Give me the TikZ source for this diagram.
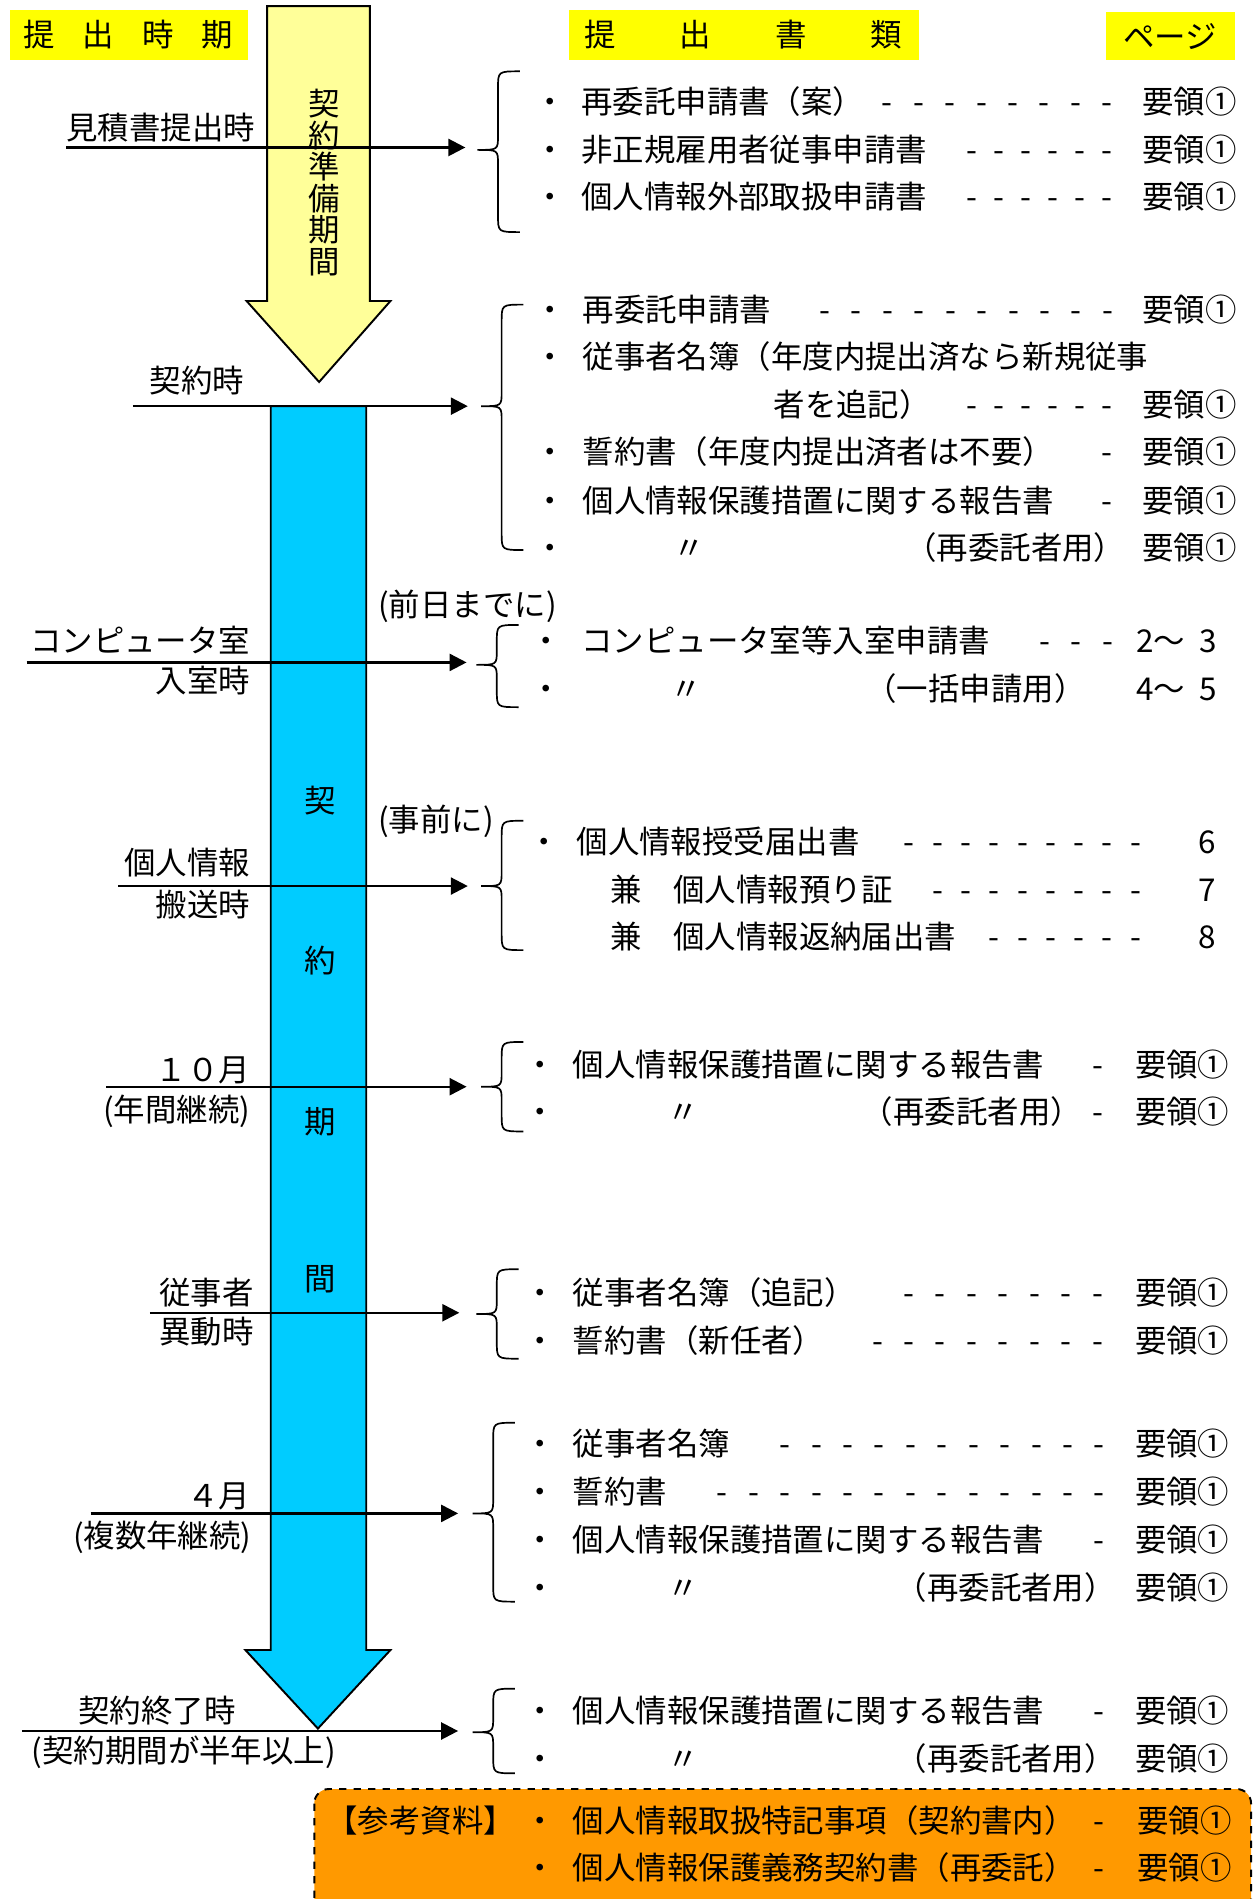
\documentclass[tikz,border=0pt]{standalone}
\usepackage{fontspec}
\setmainfont{Noto Sans CJK JP}
\usetikzlibrary{arrows.meta}
\definecolor{hdr}{HTML}{FFFF00}
\definecolor{ylw}{HTML}{FFFF99}
\definecolor{blu}{HTML}{00CCFF}
\definecolor{org}{HTML}{FF9900}
\newcommand\fs{\fontsize{13pt}{15pt}\selectfont}
\newcount\dcnt
\newcommand\dashes[2][13pt]{\dcnt=0 \loop\ifnum\dcnt<#2 \makebox[\dimexpr#1/2\relax]{-}\hspace*{\dimexpr#1/2\relax}\advance\dcnt by 1 \repeat}
\newcommand\mybrace[4]{%
 \draw[bracestyle] ({#1+35},#2) .. controls ({#1+17},#2) .. ({#1+17},{#2+14}) -- ({#1+17},{#3-12}) .. controls ({#1+17},#3) .. (#1,#3) .. controls ({#1+17},#3) .. ({#1+17},{#3+12}) -- ({#1+17},{#4-14}) .. controls ({#1+17},#4) .. ({#1+35},#4);}
\tikzset{
 every node/.style={inner sep=0pt, outer sep=0pt, font=\fs, text height=11.4pt, text depth=1.6pt},
 conn/.style={line width=1pt, -{Triangle[length=7pt,width=7pt]}},
 bracestyle/.style={line width=0.7pt},
 bigarrow/.style={draw=black, line width=0.8pt, line join=miter},
 vert/.style={align=center, text height=, text depth=},
}
\begin{document}
\begin{tikzpicture}[x=0.5pt,y=-0.5pt]
\useasboundingbox (0,0) rectangle (1040,1571);
\clip (0,0) rectangle (1040,1571);
% header boxes
\fill[hdr] (8,8) rectangle (205,50);
\fill[hdr] (471,8) rectangle (760,50);
\fill[hdr] (915,10) rectangle (1022,50);
\node (h1) at (106,29) {提\hspace{11.5pt}出\hspace{11.5pt}時\hspace{11.5pt}期};
\node (h2) at (615,29) {提\hspace{26.5pt}出\hspace{26.5pt}書\hspace{26.5pt}類};
\node (h3) at (968,30) {ページ};
% big arrows
\filldraw[bigarrow, fill=ylw] (221,5) -- (306,5) -- (306,249) -- (323,249) -- (264,316) -- (204,249) -- (221,249) -- cycle;
\filldraw[bigarrow, fill=blu] (224,336) -- (303,336) -- (303,1365) -- (323,1365) -- (263,1430) -- (203,1365) -- (224,1365) -- cycle;
\node[vert, font=\fontsize{13pt}{13pt}\selectfont] (vy) at (268,151) {契\\約\\準\\備\\期\\間};
\node (vb1) at (265,662) {契};
\node (vb2) at (265,795) {約};
\node (vb3) at (265,928) {期};
\node (vb4) at (265,1058) {間};
% reference box
\filldraw[fill=org, draw=black, dashed, line width=0.8pt, rounded corners=6pt] (260,1480) rectangle (1035,1620);
% connectors
\coordinate (s1) at (55,122);   \coordinate (e1) at (385,122);
\coordinate (s2) at (110,336);  \coordinate (e2) at (387,336);
\coordinate (s3) at (22,548);   \coordinate (e3) at (386,548);
\coordinate (s4) at (98,733);   \coordinate (e4) at (387,733);
\coordinate (s5) at (88,899);   \coordinate (e5) at (386,899);
\coordinate (s6) at (124,1086); \coordinate (e6) at (380,1086);
\coordinate (s7) at (75,1252);  \coordinate (e7) at (379,1252);
\coordinate (s8) at (18,1432);  \coordinate (e8) at (379,1432);
\foreach \i in {1,...,8} \draw[conn] (s\i) -- (e\i);
% braces
\mybrace{395}{59}{124}{192}
\mybrace{398}{252}{336}{455}
\mybrace{394}{517}{550}{585}
\mybrace{398}{679}{733}{786}
\mybrace{398}{862}{899}{936}
\mybrace{394}{1050}{1087}{1124}
\mybrace{391}{1177}{1252}{1325}
\mybrace{391}{1397}{1433}{1467}
% left labels
\node[anchor=west] (l1) at (55,106) {見積書提出時};
\node (l2) at (163,315) {契約時};
\node[anchor=east] (l3a) at (207,530) {コンピュータ室};
\node[anchor=east] (l3b) at (207,563) {入室時};
\node[anchor=east] (l4a) at (207,714) {個人情報};
\node[anchor=east] (l4b) at (207,748) {搬送時};
\node[anchor=east] (l5a) at (207,885) {１０月};
\node[anchor=east] (l5b) at (207,918) {(年間継続)};
\node[anchor=east] (l6a) at (210,1069) {従事者};
\node[anchor=east] (l6b) at (210,1102) {異動時};
\node[anchor=east] (l7a) at (207,1237) {４月};
\node[anchor=east] (l7b) at (208,1270) {(複数年継続)};
\node (l8a) at (130,1415) {契約終了時};
\node (l8b) at (152,1448) {(契約期間が半年以上)};
\node[anchor=west] (n3) at (313,500) {(前日までに)};
\node[anchor=west] (n4) at (313,678) {(事前に)};
% group 1
\node (g1b1) at (455,84) {・};
\node[anchor=west] (g1t1) at (481,84) {再委託申請書（案）};
\node[anchor=east] (g1d1) at (935.5,84) {\dashes{8}};
\node[anchor=east] (g1p1) at (1023,84) {要領①};
\node (g1b2) at (455,124) {・};
\node[anchor=west] (g1t2) at (481,124) {非正規雇用者従事申請書};
\node[anchor=east] (g1d2) at (932.8,124) {\dashes[11.2pt]{6}};
\node[anchor=east] (g1p2) at (1023,124) {要領①};
\node (g1b3) at (455,163) {・};
\node[anchor=west] (g1t3) at (481,163) {個人情報外部取扱申請書};
\node[anchor=east] (g1d3) at (932.8,163) {\dashes[11.2pt]{6}};
\node[anchor=east] (g1p3) at (1023,163) {要領①};
% group 2
\node (g2b1) at (455,256) {・};
\node[anchor=west] (g2t1) at (482,256) {再委託申請書};
\node[anchor=east] (g2d1) at (936,256) {\dashes{10}};
\node[anchor=east] (g2p1) at (1023,256) {要領①};
\node (g2b2) at (455,295) {・};
\node[anchor=west] (g2t2) at (482,295) {従事者名簿（年度内提出済なら新規従事};
\node[anchor=west] (g2t3) at (640,335) {者を追記）};
\node[anchor=east] (g2d3) at (932.8,335) {\dashes[11.2pt]{6}};
\node[anchor=east] (g2p3) at (1023,335) {要領①};
\node (g2b4) at (455,374) {・};
\node[anchor=west] (g2t4) at (482,374) {誓約書（年度内提出済者は不要）};
\node[anchor=east] (g2d4) at (935.5,374) {\dashes{1}};
\node[anchor=east] (g2p4) at (1023,374) {要領①};
\node (g2b5) at (455,414) {・};
\node[anchor=west] (g2t5) at (482,414) {個人情報保護措置に関する報告書};
\node[anchor=east] (g2d5) at (935.5,414) {\dashes{1}};
\node[anchor=east] (g2p5) at (1023,414) {要領①};
\node (g2b6) at (455,453) {・};
\node (g2q6) at (570,453) {〃};
\node[anchor=east] (g2t6) at (931,453) {（再委託者用）};
\node[anchor=east] (g2p6) at (1023,453) {要領①};
% group 3
\node (g3b1) at (452,530) {・};
\node[anchor=west] (g3t1) at (481,530) {コンピュータ室等入室申請書};
\node[anchor=east] (g3d1) at (936,530) {\dashes{3}};
\node[anchor=east] (g3p1) at (1007,530) {2〜\hspace{6pt}3};
\node (g3b2) at (452,570) {・};
\node (g3q2) at (568,570) {〃};
\node[anchor=east] (g3t2) at (898,570) {（一括申請用）};
\node[anchor=east] (g3p2) at (1007,570) {4〜\hspace{6pt}5};
% group 4
\node (g4b1) at (450,696) {・};
\node[anchor=west] (g4t1) at (477,696) {個人情報授受届出書};
\node[anchor=east] (g4d1) at (957,696) {\dashes[11.7pt]{9}};
\node[anchor=east] (g4p1) at (1006,696) {6};
\node[anchor=west] (g4t2) at (505,736) {兼　個人情報預り証};
\node[anchor=east] (g4d2) at (957,736) {\dashes[11.7pt]{8}};
\node[anchor=east] (g4p2) at (1006,736) {7};
\node[anchor=west] (g4t3) at (505,775) {兼　個人情報返納届出書};
\node[anchor=east] (g4d3) at (957,775) {\dashes[11.7pt]{6}};
\node[anchor=east] (g4p3) at (1006,775) {8};
% group 5
\node (g5b1) at (447,881) {・};
\node[anchor=west] (g5t1) at (474,881) {個人情報保護措置に関する報告書};
\node[anchor=east] (g5d1) at (927.5,881) {\dashes{1}};
\node[anchor=east] (g5p1) at (1017,881) {要領①};
\node (g5b2) at (447,920) {・};
\node (g5q2) at (565,920) {〃};
\node[anchor=east] (g5t2) at (895,920) {（再委託者用）};
\node[anchor=east] (g5d2) at (927.5,920) {\dashes{1}};
\node[anchor=east] (g5p2) at (1017,920) {要領①};
% group 6
\node (g6b1) at (447,1069) {・};
\node[anchor=west] (g6t1) at (474,1069) {従事者名簿（追記）};
\node[anchor=east] (g6d1) at (927.5,1069) {\dashes{7}};
\node[anchor=east] (g6p1) at (1017,1069) {要領①};
\node (g6b2) at (447,1109) {・};
\node[anchor=west] (g6t2) at (474,1109) {誓約書（新任者）};
\node[anchor=east] (g6d2) at (927.5,1109) {\dashes{8}};
\node[anchor=east] (g6p2) at (1017,1109) {要領①};
% group 7
\node (g7b1) at (447,1194) {・};
\node[anchor=west] (g7t1) at (474,1194) {従事者名簿};
\node[anchor=east] (g7d1) at (929,1194) {\dashes{11}};
\node[anchor=east] (g7p1) at (1017,1194) {要領①};
\node (g7b2) at (447,1234) {・};
\node[anchor=west] (g7t2) at (474,1234) {誓約書};
\node[anchor=east] (g7d2) at (929,1234) {\dashes{13}};
\node[anchor=east] (g7p2) at (1017,1234) {要領①};
\node (g7b3) at (447,1274) {・};
\node[anchor=west] (g7t3) at (474,1274) {個人情報保護措置に関する報告書};
\node[anchor=east] (g7d3) at (929,1274) {\dashes{1}};
\node[anchor=east] (g7p3) at (1017,1274) {要領①};
\node (g7b4) at (447,1313) {・};
\node (g7q4) at (565,1313) {〃};
\node[anchor=east] (g7t4) at (923,1313) {（再委託者用）};
\node[anchor=east] (g7p4) at (1017,1313) {要領①};
% group 8
\node (g8b1) at (447,1415) {・};
\node[anchor=west] (g8t1) at (474,1415) {個人情報保護措置に関する報告書};
\node[anchor=east] (g8d1) at (929,1415) {\dashes{1}};
\node[anchor=east] (g8p1) at (1017,1415) {要領①};
\node (g8b2) at (447,1455) {・};
\node (g8q2) at (565,1455) {〃};
\node[anchor=east] (g8t2) at (923,1455) {（再委託者用）};
\node[anchor=east] (g8p2) at (1017,1455) {要領①};
% reference material
\node[anchor=west] (r0) at (270,1506) {【参考資料】};
\node (rb1) at (447,1506) {・};
\node[anchor=west] (rt1) at (474,1506) {個人情報取扱特記事項（契約書内）};
\node[anchor=east] (rd1) at (929,1506) {\dashes{1}};
\node[anchor=east] (rp1) at (1019,1506) {要領①};
\node (rb2) at (447,1545) {・};
\node[anchor=west] (rt2) at (474,1545) {個人情報保護義務契約書（再委託）};
\node[anchor=east] (rd2) at (929,1545) {\dashes{1}};
\node[anchor=east] (rp2) at (1019,1545) {要領①};
\end{tikzpicture}
\end{document}
